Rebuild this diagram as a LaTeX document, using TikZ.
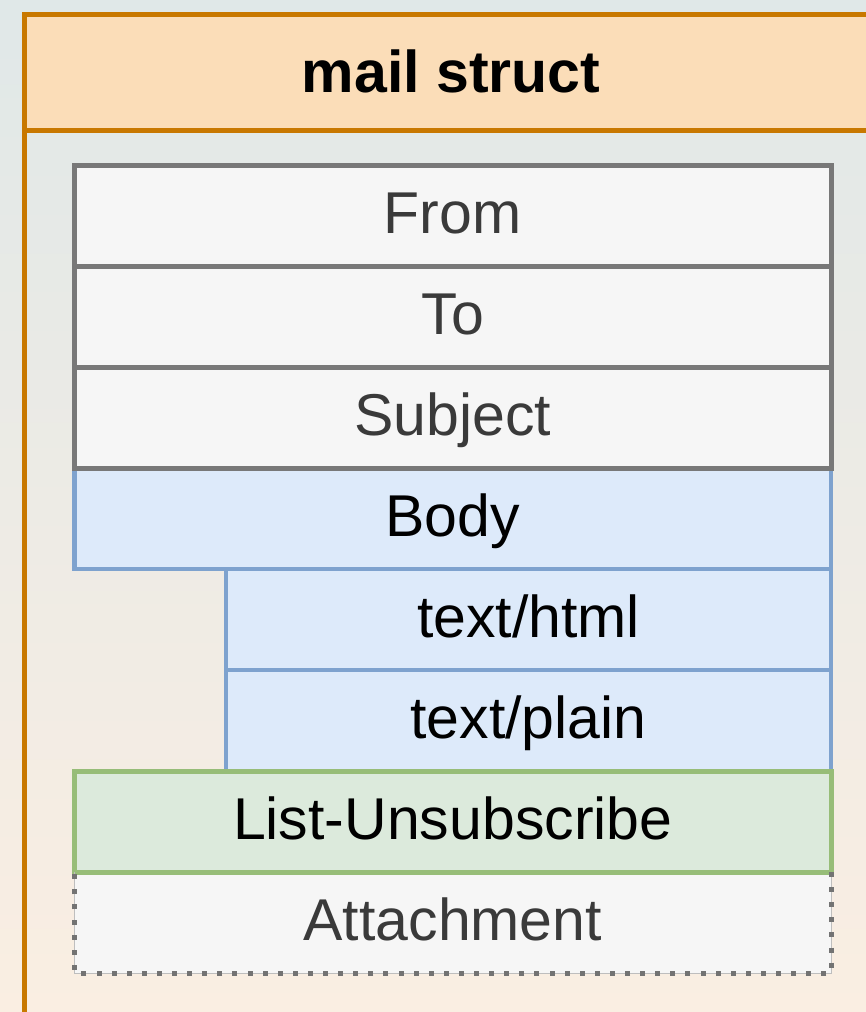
\documentclass[tikz,border=0pt]{standalone}
\usepackage{fontspec}
\setmainfont{Liberation Sans}
\usetikzlibrary{shapes,positioning}
\definecolor{bgtop}{RGB}{224,232,232}
\definecolor{bgbottom}{RGB}{250,238,226}
\definecolor{orangeline}{RGB}{200,120,0}
\definecolor{orangefill}{RGB}{251,221,184}
\definecolor{grayline}{RGB}{120,120,120}
\definecolor{grayfill}{RGB}{246,246,246}
\definecolor{graytext}{RGB}{58,58,58}
\definecolor{blueline}{RGB}{126,162,206}
\definecolor{bluefill}{RGB}{221,234,250}
\definecolor{greenline}{RGB}{151,189,120}
\definecolor{greenfill}{RGB}{220,234,220}
\definecolor{dotline}{RGB}{190,190,190}
\definecolor{dotgray}{RGB}{115,115,115}
\tikzstyle{rowbox} = [rectangle, draw=grayline, fill=grayfill, text=graytext, line width=5pt,
minimum width=756.5pt, minimum height=101pt, inner sep=0pt, outer sep=0pt, text height=45pt,
text depth=10pt, font=\fontsize{59}{70}\selectfont, node distance=101pt]
\tikzstyle{bodybox} = [rowbox, draw=blueline, fill=bluefill, text=black, line width=4.5pt]
\tikzstyle{mimebox} = [bodybox, minimum width=605pt]
\tikzstyle{unsubbox} = [rowbox, draw=greenline, fill=greenfill, text=black]
\tikzstyle{attachbox} = [rowbox, draw=none]
\tikzstyle{dotborder} = [draw=dotline, line width=1pt, postaction={draw=dotgray, line width=5pt,
dash pattern=on 5pt off 10.1pt}]
\tikzstyle{titlebar} = [rectangle, draw=orangeline, fill=orangefill, line width=5pt,
minimum width=853pt, minimum height=116pt, inner sep=0pt, outer sep=0pt, text height=47pt,
text depth=8pt, font=\bfseries\fontsize{59}{70}\selectfont]
\tikzstyle{structframe} = [draw=orangeline, line width=5pt]

\begin{document}
\begin{tikzpicture}[x=1pt, y=-1pt]
	\useasboundingbox (0,0) rectangle (866,1012);
	\shade[top color=bgtop, bottom color=bgbottom] (0,0) rectangle (866,1012);
	\clip (0,0) rectangle (866,1012);
	% container
	\node [titlebar] (title) at (451,72.5) {mail struct};
	\draw [structframe] (title.south west) rectangle (title.east |- 0,1100);
	% body part first, the gray rows sit on top of it
	\node [bodybox] (body) at (452.75,518.5) {Body};
	\node [mimebox, below of=body, xshift=75.75pt] (html) {text/html};
	\node [mimebox, below of=html] (plain) {text/plain};
	\node [rowbox, above of=body] (subject) {Subject};
	\node [rowbox, above of=subject] (to) {To};
	\node [rowbox, above of=to] (from) {From};
	\node [attachbox, below of=plain, xshift=-75.75pt, node distance=202pt] (attach) {Attachment};
	\node [unsubbox, below of=plain, xshift=-75.75pt] (unsub) {List-Unsubscribe};
	\path [dotborder] (attach.north east) -- (attach.south east) -- (attach.south west) -- (attach.north west);
\end{tikzpicture}
\end{document}
